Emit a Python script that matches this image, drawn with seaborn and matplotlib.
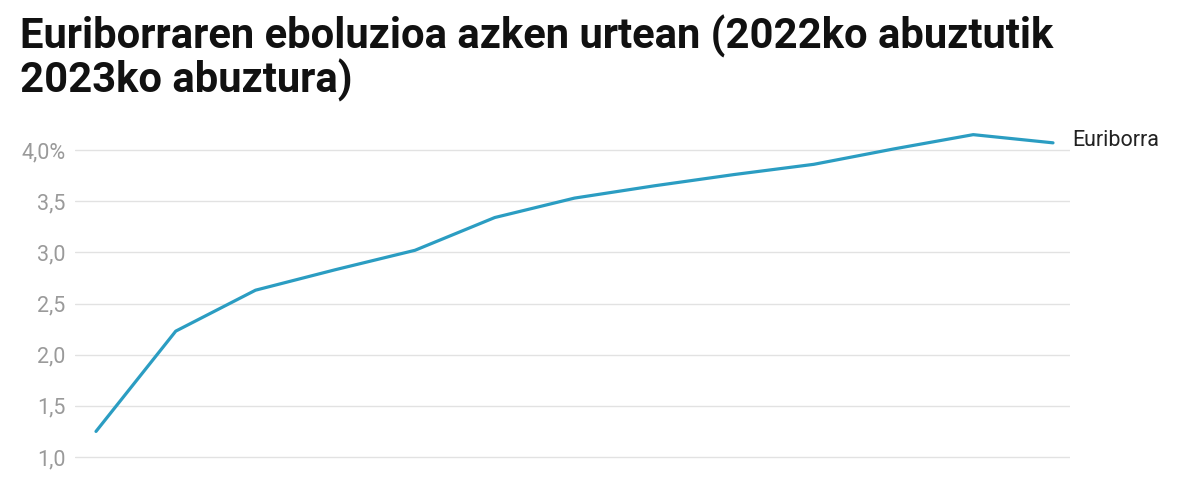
import matplotlib
matplotlib.use("Agg")
import matplotlib.pyplot as plt
import seaborn as sns
import pandas as pd
from matplotlib.ticker import FixedLocator, FuncFormatter

# ---- data ----
months = ["2022-08", "2022-09", "2022-10", "2022-11", "2022-12", "2023-01",
          "2023-02", "2023-03", "2023-04", "2023-05", "2023-06", "2023-07", "2023-08"]
euribor = [1.25, 2.23, 2.63, 2.83, 3.02, 3.34, 3.53, 3.65, 3.76, 3.86, 4.01, 4.15, 4.07]
series_name = "Euriborra"
title_lines = ["Euriborraren eboluzioa azken urtean (2022ko abuztutik", "2023ko abuztura)"]
y_ticks = [0.5, 1.0, 1.5, 2.0, 2.5, 3.0, 3.5, 4.0]

df = pd.DataFrame({"month": months, "value": euribor})

sns.set_theme(style="white")
plt.rcParams["font.family"] = ["Roboto", "DejaVu Sans"]

W, H = 1200, 500
fig = plt.figure(figsize=(12, 5), dpi=100)

# axes in pixel coordinates (extends below figure bottom, like the cropped original)
left_px, right_px = 75, 1070
top_px, bottom_px = 130, 530
ax = fig.add_axes([left_px / W, (H - bottom_px) / H, (right_px - left_px) / W, (bottom_px - top_px) / H])

sns.lineplot(data=df, x="month", y="value", ax=ax, color="#2b9dc2", linewidth=2.3, sort=False)

# scales: points at px 96 .. 1053; grid 4.0 at y=150, 1.0 at y=457
n = len(months)
ppu_x = (1053 - 96) / (n - 1)
ax.set_xlim(-(96 - left_px) / ppu_x, (n - 1) + (right_px - 1053) / ppu_x)
ppu_y = (457 - 150) / 3.0
ax.set_ylim(1.0 - (bottom_px - 457) / ppu_y, 4.0 + (150 - top_px) / ppu_y)

ax.yaxis.set_major_locator(FixedLocator(y_ticks))
def fmt(v, pos):
    s = f"{v:.1f}".replace(".", ",")
    return s + "%" if abs(v - max(y_ticks)) < 1e-9 else s
ax.yaxis.set_major_formatter(FuncFormatter(fmt))
ax.tick_params(axis="y", length=0, pad=7, labelsize=15.5, labelcolor="#9a9a9a")
ax.set_xticks([])
ax.set_xlabel("")
ax.set_ylabel("")
ax.grid(axis="y", color="#e2e2e2", linewidth=1.0)
ax.set_axisbelow(True)
for s in ax.spines.values():
    s.set_visible(False)

ax.annotate(series_name, xy=(n - 1, euribor[-1]), xytext=(13.5, 2), textcoords="offset points",
            va="center", ha="left", fontsize=15.5, color="#222222", annotation_clip=False)

fig.text(20 / W, (H - 49) / H, title_lines[0], fontsize=30.1, fontweight="bold",
         color="#111111", va="baseline", ha="left")
fig.text(20 / W, (H - 93) / H, title_lines[1], fontsize=30.1, fontweight="bold",
         color="#111111", va="baseline", ha="left")

fig.savefig("out.png", dpi=100)
